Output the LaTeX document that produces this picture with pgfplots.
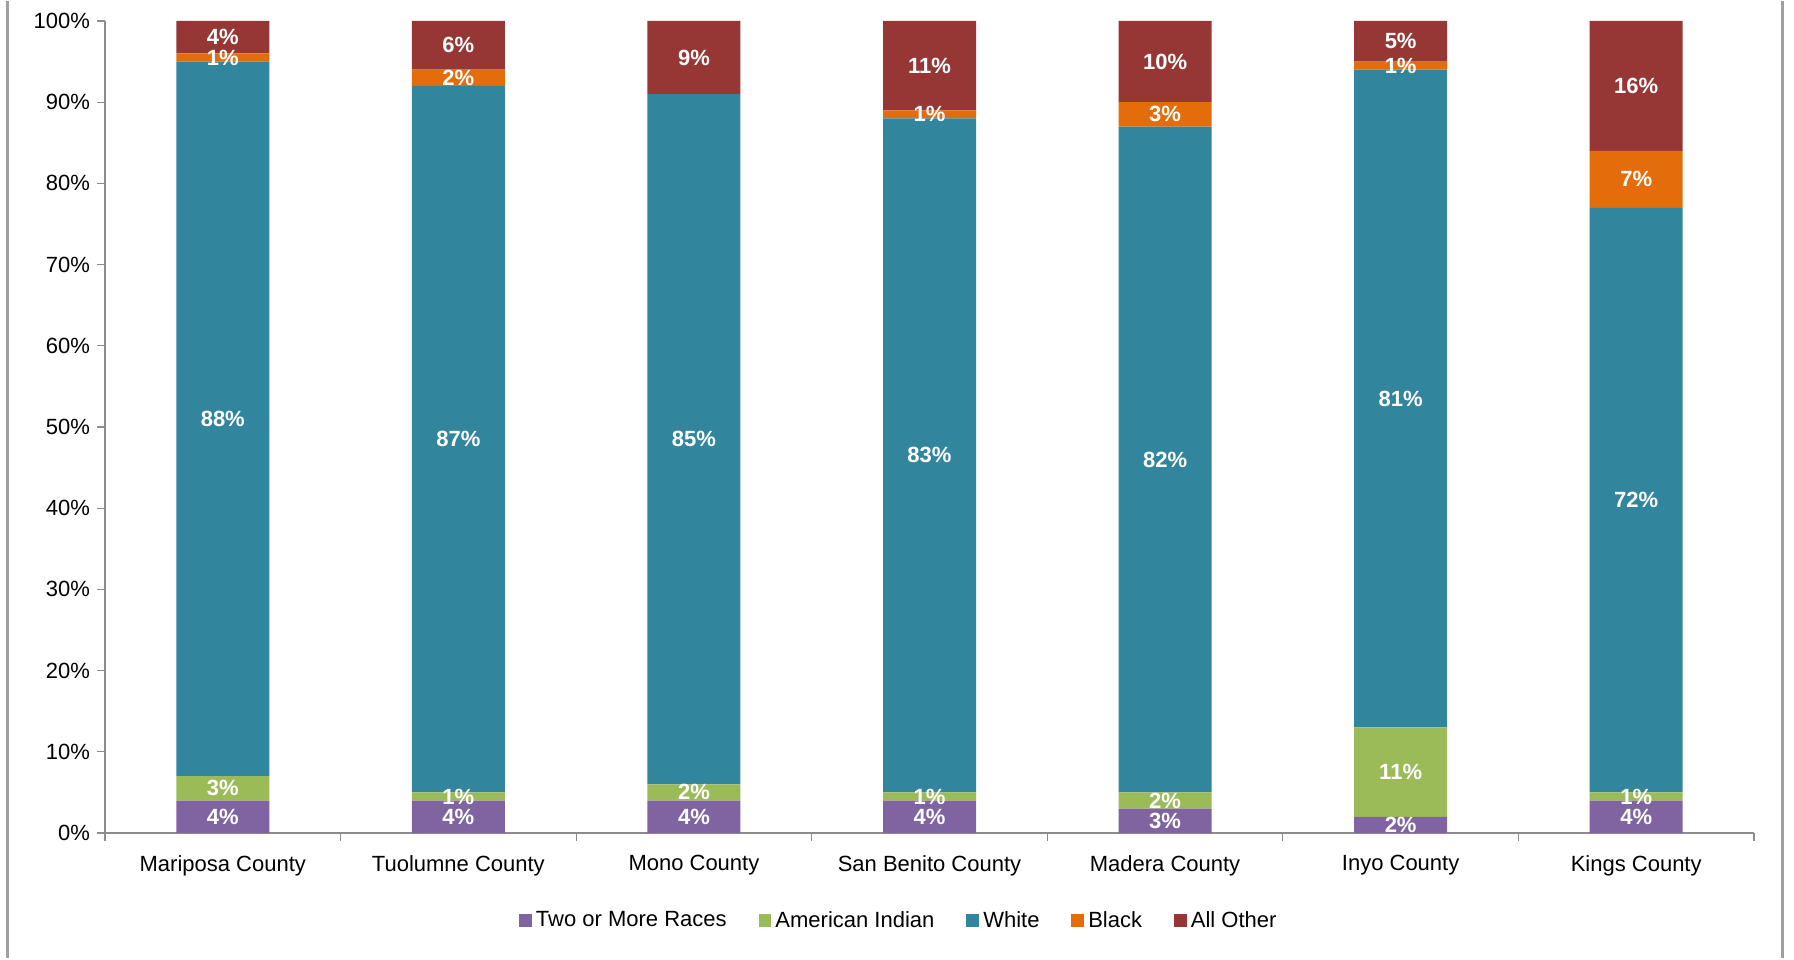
\documentclass[border=0pt]{standalone}
\usepackage{pgfplots}
\pgfplotsset{compat=1.18}
\usepackage{pgfplotstable}
\usepackage{fontspec}
\setmainfont{Liberation Sans}

\definecolor{cMulti}{RGB}{128,100,162}
\definecolor{cIndian}{RGB}{155,187,89}
\definecolor{cWhite}{RGB}{49,133,156}
\definecolor{cBlack}{RGB}{228,108,10}
\definecolor{cOther}{RGB}{150,55,53}
\definecolor{axgray}{RGB}{140,140,140}
\definecolor{framegray}{RGB}{160,160,160}

% race shares by county (percent), bottom to top of each bar
\pgfplotstableread{
x multi indian white black other
0 4 3 88 1 4
1 4 1 87 2 6
2 4 2 85 0 9
3 4 1 83 1 11
4 3 2 82 3 10
5 2 11 81 1 5
6 4 1 72 7 16
}\racedata

\pgfplotsset{
  countyframe/.style={
    scale only axis,
    width=824.5pt, height=406pt,
    ybar stacked, bar width=46.5pt,
    xmin=-0.5, xmax=6.5, ymin=0, ymax=100,
  },
}

\begin{document}
\begin{tikzpicture}
\begin{axis}[
  countyframe,
  xtick={0,...,6},
  xticklabels={Mariposa County, Tuolumne County, Mono County, San Benito County, Madera County, Inyo County, Kings County},
  minor xtick={-0.5,0.5,...,6.5},
  major x tick style={draw=none},
  ytick={0,10,...,100},
  yticklabel={\pgfmathprintnumber{\tick}\%},
  /pgf/number format/assume math mode=true,
  tick align=outside,
  major tick length=4pt, minor tick length=4pt,
  tick style={axgray, line width=0.6pt},
  axis x line*=bottom, axis y line*=left,
  axis line style={axgray, line width=0.8pt, -},
  tick label style={font=\fontsize{11}{13}\selectfont, black},
  xticklabel style={yshift=-3.5pt},
  legend style={draw=none, fill=none, at={(0.482,-0.108)}, anchor=center,
    legend columns=5, font=\fontsize{11}{13}\selectfont,
    /tikz/every even column/.append style={column sep=14pt}},
  legend cell align=left,
  legend image code/.code={\fill[#1] (0pt,-3.2pt) rectangle (6.4pt,3.2pt);},
]
\addplot[fill=cMulti, draw=none] table[x=x, y=multi] {\racedata};
\addlegendentry{Two or More Races}
\addplot[fill=cIndian, draw=none] table[x=x, y=indian] {\racedata};
\addlegendentry{American Indian}
\addplot[fill=cWhite, draw=none] table[x=x, y=white] {\racedata};
\addlegendentry{White}
\addplot[fill=cBlack, draw=none] table[x=x, y=black] {\racedata};
\addlegendentry{Black}
\addplot[fill=cOther, draw=none] table[x=x, y=other] {\racedata};
\addlegendentry{All Other}
\end{axis}

% second pass: value labels on top of all segments
\begin{axis}[
  countyframe,
  hide axis,
  /pgf/number format/assume math mode=true,
  visualization depends on={rawy \as \rawy},
  nodes near coords={\ifdim\rawy pt>0.5pt \pgfmathprintnumber{\rawy}\%\fi},
  every node near coord/.append style={font=\bfseries\fontsize{11}{13}\selectfont,
    text=white, anchor=center},
]
\addplot[draw=none, fill=none] table[x=x, y=multi] {\racedata};
\addplot[draw=none, fill=none] table[x=x, y=indian] {\racedata};
\addplot[draw=none, fill=none] table[x=x, y=white] {\racedata};
\addplot[draw=none, fill=none] table[x=x, y=black] {\racedata};
\addplot[draw=none, fill=none] table[x=x, y=other] {\racedata};
\end{axis}

\path ([xshift=-52.5pt,yshift=-62.5pt]current axis.south west)
  rectangle ([xshift=20pt,yshift=9.75pt]current axis.north east);
\draw[framegray, line width=1.5pt]
  ([xshift=-48.5pt,yshift=-62.5pt]current axis.south west)
  -- ([xshift=-48.5pt,yshift=9.75pt]current axis.north west);
\draw[framegray, line width=1.5pt]
  ([xshift=14pt,yshift=-62.5pt]current axis.south east)
  -- ([xshift=14pt,yshift=9.75pt]current axis.north east);
\end{tikzpicture}
\end{document}
